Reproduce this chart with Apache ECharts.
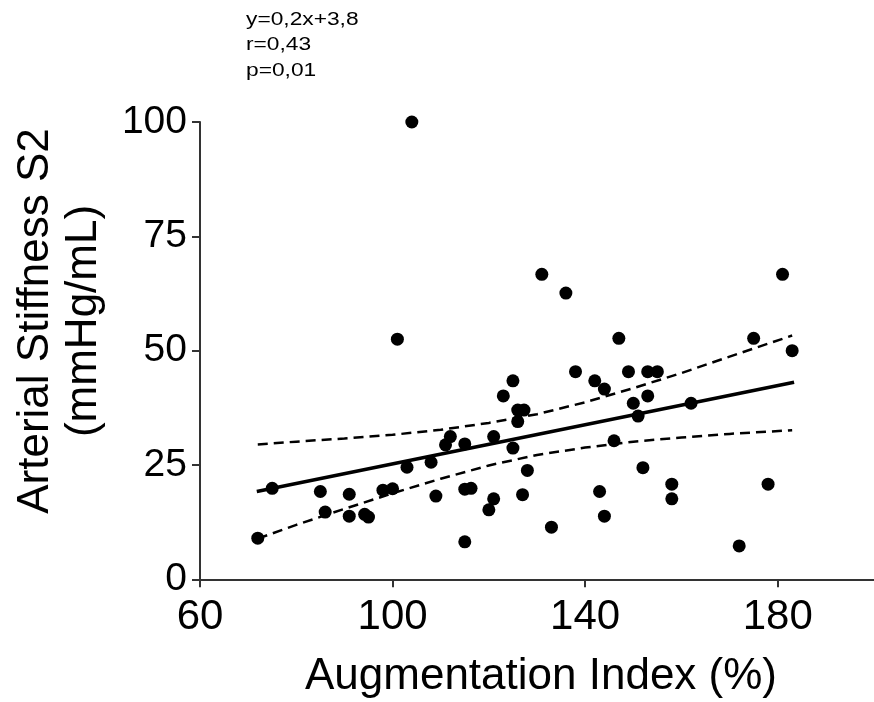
<!DOCTYPE html>
<html>
<head>
<meta charset="utf-8">
<script src="https://cdn.jsdelivr.net/npm/echarts@6/dist/echarts.min.js"></script>
<style>
  html, body { margin: 0; padding: 0; background: #fff; }
  #chart { width: 874px; height: 702px; }
</style>
</head>
<body>
<div id="chart"></div>
<script>
// Augmentation index (%) vs arterial stiffness S2 (mmHg/mL), one entry per subject
const augIndex  = [72, 75, 85, 86, 91, 91, 94.2, 95, 98, 100,
                   101, 103, 104, 108, 109, 111, 112, 115, 115, 116.3,
                   115, 120, 121, 121, 123, 125, 125, 126, 127.3, 126,
                   127, 128, 131, 133, 136, 138, 142, 143, 144, 144,
                   146, 147, 149, 150, 151, 152, 153, 153, 155, 158,
                   158, 162, 172, 175, 178, 181, 183];
const stiffness = [9.0, 19.9, 19.2, 14.7, 18.6, 13.8, 14.2, 13.6, 19.5, 19.8,
                   52.5, 24.5, 100, 25.6, 18.2, 29.4, 31.2, 29.6, 19.7, 19.9,
                   8.2, 15.2, 17.6, 31.2, 40.1, 43.4, 28.7, 37.0, 37.0, 34.5,
                   18.5, 23.8, 66.7, 11.4, 62.6, 45.4, 43.4, 19.2, 41.6, 13.8,
                   30.3, 52.7, 45.4, 38.5, 35.7, 24.4, 45.4, 40.1, 45.4, 20.8,
                   17.6, 38.5, 7.3, 52.7, 20.8, 66.7, 50.0];

// Linear fit (y = 0,2x + 3,8) end points
const fitLine = [[71.8, 19.2], [183.4, 43.1]];

// 95% confidence band of the fit
const bandX     = [72, 80, 90, 100, 110, 120, 130, 140, 150, 160, 170, 183];
const bandUpper = [29.5, 30.1, 30.8, 31.6, 32.7, 34.2, 36.1, 38.7, 41.8, 45.1, 48.7, 53.3];
const bandLower = [8.9, 11.9, 15.4, 18.8, 22.0, 24.9, 27.2, 28.8, 30.1, 31.0, 31.8, 32.6];

// Axis ranges and tick steps
const xMin = 60, xMax = 200, xStep = 40;
const yMin = 0, yMax = 100, yStep = 25;

const statsText = ['y=0,2x+3,8', 'r=0,43', 'p=0,01'];
const xTitle = 'Augmentation Index (%)';
const yTitle = ['Arterial Stiffness S2', '(mmHg/mL)'];

const FONT = '"Liberation Sans", Arial, Helvetica, sans-serif';

const points = augIndex.map((x, i) => [x, stiffness[i]]);
const upper = bandX.map((x, i) => [x, bandUpper[i]]);
const lower = bandX.map((x, i) => [x, bandLower[i]]);

const chart = echarts.init(document.getElementById('chart'), null, { renderer: 'canvas' });

const axisLineStyle = { color: '#333', width: 2 };
const bandStyle = { color: '#000', width: 2.5, type: [10, 6] };

chart.setOption({
  backgroundColor: '#fff',
  animation: false,
  grid: { left: 200, right: -8.5, top: 122, bottom: 122.7, containLabel: false },
  xAxis: {
    type: 'value',
    min: xMin, max: xMax, interval: xStep,
    axisLine: { show: true, onZero: false, lineStyle: axisLineStyle },
    axisTick: { show: true, length: 8, lineStyle: axisLineStyle },
    axisLabel: { show: true, showMaxLabel: false, color: '#000', fontSize: 42, fontFamily: FONT, margin: 17 },
    splitLine: { show: false }
  },
  yAxis: {
    type: 'value',
    min: yMin, max: yMax, interval: yStep,
    axisLine: { show: true, onZero: false, lineStyle: axisLineStyle },
    axisTick: { show: true, length: 8, lineStyle: axisLineStyle },
    axisLabel: { show: true, color: '#000', fontSize: 39, fontFamily: FONT, margin: 13 },
    splitLine: { show: false }
  },
  series: [
    {
      name: 'upper',
      type: 'line',
      data: upper,
      symbol: 'none',
      lineStyle: bandStyle,
      z: 2
    },
    {
      name: 'lower',
      type: 'line',
      data: lower,
      symbol: 'none',
      lineStyle: bandStyle,
      z: 2
    },
    {
      name: 'fit',
      type: 'line',
      data: fitLine,
      symbol: 'none',
      lineStyle: { color: '#000', width: 3.5 },
      z: 3
    },
    {
      name: 'subjects',
      type: 'scatter',
      data: points,
      symbol: 'circle',
      symbolSize: 13,
      itemStyle: { color: '#000', opacity: 1 },
      z: 4
    }
  ],
  graphic: [
    {
      type: 'text',
      x: 246,
      y: 7,
      scaleX: 1.3,
      style: {
        text: statsText.join('\n'),
        font: '17.5px ' + FONT,
        fill: '#000',
        lineHeight: 25.5,
        align: 'left',
        verticalAlign: 'top'
      }
    },
    {
      type: 'text',
      x: 60,
      y: 321,
      rotation: Math.PI / 2,
      style: {
        text: yTitle.join('\n'),
        font: '44px ' + FONT,
        fill: '#000',
        lineHeight: 48,
        align: 'center',
        verticalAlign: 'middle'
      }
    },
    {
      type: 'text',
      x: 541,
      y: 677,
      style: {
        text: xTitle,
        font: '44px ' + FONT,
        fill: '#000',
        align: 'center',
        verticalAlign: 'middle'
      }
    }
  ]
});
</script>
</body>
</html>
